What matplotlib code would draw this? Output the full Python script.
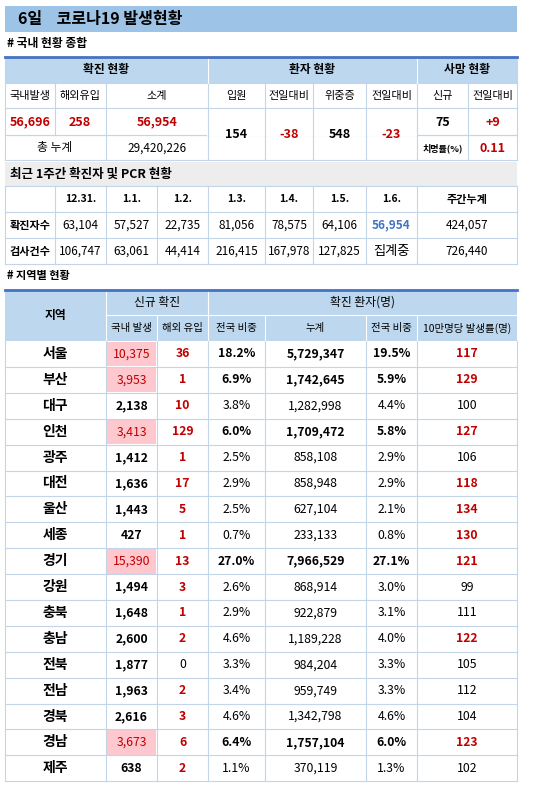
import matplotlib
matplotlib.use("Agg")
import matplotlib.pyplot as plt
from matplotlib.patches import Rectangle

plt.rcParams['font.family'] = ['Noto Sans CJK KR', 'DejaVu Sans']

# ---- data ----
top_domestic, top_overseas, top_total = "56,696", "258", "56,954"
top_cumulative = "29,420,226"
hosp, hosp_diff, severe, severe_diff = "154", "-38", "548", "-23"
deaths, deaths_diff, fatality = "75", "+9", "0.11"
week_dates = ["12.31.", "1.1.", "1.2.", "1.3.", "1.4.", "1.5.", "1.6."]
week_cases = ["63,104", "57,527", "22,735", "81,056", "78,575", "64,106", "56,954"]
week_tests = ["106,747", "63,061", "44,414", "216,415", "167,978", "127,825", "집계중"]
week_cases_total, week_tests_total = "424,057", "726,440"
regions = ["서울", "부산", "대구", "인천", "광주", "대전", "울산", "세종", "경기", "강원",
           "충북", "충남", "전북", "전남", "경북", "경남", "제주"]
domestic = [10375, 3953, 2138, 3413, 1412, 1636, 1443, 427, 15390, 1494, 1648, 2600, 1877, 1963, 2616, 3673, 638]
overseas = [36, 1, 10, 129, 1, 17, 5, 1, 13, 3, 1, 2, 0, 2, 3, 6, 2]
share = [18.2, 6.9, 3.8, 6.0, 2.5, 2.9, 2.5, 0.7, 27.0, 2.6, 2.9, 4.6, 3.3, 3.4, 4.6, 6.4, 1.1]
cumulative = [5729347, 1742645, 1282998, 1709472, 858108, 858948, 627104, 233133, 7966529, 868914,
              922879, 1189228, 984204, 959749, 1342798, 1757104, 370119]
cum_share = [19.5, 5.9, 4.4, 5.8, 2.9, 2.9, 2.1, 0.8, 27.1, 3.0, 3.1, 4.0, 3.3, 3.3, 4.6, 6.0, 1.3]
rate = [117, 129, 100, 127, 106, 118, 134, 130, 121, 99, 111, 122, 105, 112, 104, 123, 102]
highlight = ["서울", "부산", "인천", "경기", "경남"]

RED = "#C00000"
HDR = "#BDD7EE"
GRID = "#C5D5E8"
PINK = "#FFC7CE"

fig = plt.figure(figsize=(5.37, 7.91), dpi=100)
ax = fig.add_axes([0, 0, 1, 1])
ax.set_xlim(0, 537)
ax.set_ylim(791, 0)
ax.axis('off')

def rect(x0, y0, x1, y1, fc, ec="none", lw=0):
    ax.add_patch(Rectangle((x0, y0), x1 - x0, y1 - y0, facecolor=fc, edgecolor=ec, lw=lw))

def txt(x, y, s, size=8.5, color="black", weight="normal", ha="center"):
    ax.text(x, y, s, fontsize=size, color=color, fontweight=weight, ha=ha, va="center")

def hline(y, x0, x1, color=GRID, lw=0.8):
    ax.plot([x0, x1], [y, y], color=color, lw=lw)

def vline(x, y0, y1, color=GRID, lw=0.8):
    ax.plot([x, x], [y0, y1], color=color, lw=lw)

# title
rect(5, 6, 517, 32, "#9DC3E6")
txt(18, 19, "6일    코로나19 발생현황", size=11.5, weight="bold", ha="left")
txt(7, 44, "# 국내 현황 종합", size=8.5, weight="bold", ha="left")

# ---- top table ----
L, R = 5, 517
r = [57, 83, 108, 135, 160]
rect(L, r[0], R, r[1], HDR)
for y in r[1:]:
    hline(y, L, R)
hline(r[3], L, 208, color="white", lw=1.2)
hline(r[3], L, 208); hline(r[3], 417, R)
hline(r[3], 208, 417, color="white", lw=1.5)
for x in [5, 208, 417, 517]:
    vline(x, r[0], r[4])
vline(208, r[0], r[1], color="white")
vline(417, r[0], r[1], color="white")
for x in [55, 106]:
    vline(x, r[1], r[3])
for x in [265, 313, 366, 468]:
    vline(x, r[1], r[4])
vline(106, r[3], r[4])
hline(r[0], L, R, color="#4472C4", lw=2)
txt((5 + 208) / 2, 70, "확진 현황", weight="bold")
txt((208 + 417) / 2, 70, "환자 현황", weight="bold")
txt((417 + 517) / 2, 70, "사망 현황", weight="bold")
subs = ["국내발생", "해외유입", "소계", "입원", "전일대비", "위중증", "전일대비", "신규", "전일대비"]
cx = [30, 80, 157, 236.5, 289, 339.5, 391.5, 442.5, 492.5]
for x, s in zip(cx, subs):
    txt(x, 96, s, size=8)
txt(30, 122, top_domestic, color=RED, weight="bold", size=9)
txt(80, 122, top_overseas, color=RED, weight="bold", size=9)
txt(157, 122, top_total, color=RED, weight="bold", size=9)
txt(55, 148, "총 누계", size=8.5)
txt(157, 148, top_cumulative, size=8.5)
txt(236.5, 135, hosp, weight="bold", size=9)
txt(289, 135, hosp_diff, color=RED, weight="bold", size=9)
txt(339.5, 135, severe, weight="bold", size=9)
txt(391.5, 135, severe_diff, color=RED, weight="bold", size=9)
txt(442.5, 122, deaths, weight="bold", size=9)
txt(492.5, 122, deaths_diff, color=RED, weight="bold", size=9)
txt(442.5, 148, "치명률(%)", size=6.5, weight="bold")
txt(492.5, 148, fatality, color=RED, weight="bold", size=9)

# ---- weekly ----
rect(L, 162, R, 186, "#EDEDED")
txt(10, 174, "최근 1주간 확진자 및 PCR 현황", size=9, weight="bold", ha="left")
wc = [5, 55, 106, 157, 208, 265, 313, 366, 417, 517]
wr = [186, 212, 238, 264]
for y in wr:
    hline(y, L, R)
for x in wc:
    vline(x, wr[0], wr[3])
for i, d in enumerate(week_dates):
    xm = (wc[i + 1] + wc[i + 2]) / 2
    txt(xm, 199, d, size=7.5, weight="bold")
    txt(xm, 225, week_cases[i], size=8.5, color="#4472C4" if i == 6 else "black",
        weight="bold" if i == 6 else "normal")
    txt(xm, 251, week_tests[i], size=9.5 if i == 6 else 8.5)
txt(467, 199, "주간누계", size=8, weight="bold")
txt(30, 225, "확진자수", size=8, weight="bold")
txt(30, 251, "검사건수", size=8, weight="bold")
txt(467, 225, week_cases_total, size=8.5)
txt(467, 251, week_tests_total, size=8.5)

# ---- regional ----
txt(7, 276, "# 지역별 현황", size=8, weight="bold", ha="left")
rc = [5, 106, 157, 208, 265, 366, 417, 517]
y0, h1, h2 = 290, 25, 26
rh = 25.9
rect(L, y0, R, y0 + h1 + h2, HDR)
hline(y0 + h1, 106, R, color="white")
for x in rc[1:-1]:
    vline(x, y0 + h1, y0 + h1 + h2, color="white")
vline(106, y0, y0 + h1, color="white"); vline(208, y0, y0 + h1, color="white")
hline(y0, L, R, color="#4472C4", lw=2)
txt(55, y0 + (h1 + h2) / 2, "지역", size=8.5, weight="bold")
txt(157, y0 + h1 / 2, "신규 확진", size=8.5)
txt(362, y0 + h1 / 2, "확진 환자(명)", size=8.5)
subh = ["국내 발생", "해외 유입", "전국 비중", "누계", "전국 비중", "10만명당 발생률(명)"]
for i, s in enumerate(subh):
    txt((rc[i + 1] + rc[i + 2]) / 2, y0 + h1 + h2 / 2, s, size=7.5)
top = y0 + h1 + h2
n = len(regions)
bottom = top + n * rh
for x in rc:
    vline(x, top, bottom)
for i in range(n):
    yt = top + i * rh
    ym = yt + rh / 2
    hl = regions[i] in highlight
    if hl:
        rect(107, yt + 0.5, 156, yt + rh - 0.5, PINK)
    hline(yt + rh, L, R)
    txt(55, ym, regions[i], size=10, weight="bold")
    txt(131.5, ym, f"{domestic[i]:,}", size=8.8, color=RED if hl else "black",
        weight="normal" if hl else "bold")
    txt(182.5, ym, str(overseas[i]), size=8.8, color=RED if overseas[i] else "black",
        weight="bold" if overseas[i] else "normal")
    w = "bold" if hl else "normal"
    txt(236.5, ym, f"{share[i]:.1f}%", size=8.8, weight=w)
    txt(315.5, ym, f"{cumulative[i]:,}", size=8.8, weight=w)
    txt(391.5, ym, f"{cum_share[i]:.1f}%", size=8.8, weight=w)
    hot = rate[i] >= 117
    txt(467, ym, str(rate[i]), size=8.8, color=RED if hot else "black",
        weight="bold" if hot else "normal")

fig.savefig("out.png", dpi=100, facecolor="white")
